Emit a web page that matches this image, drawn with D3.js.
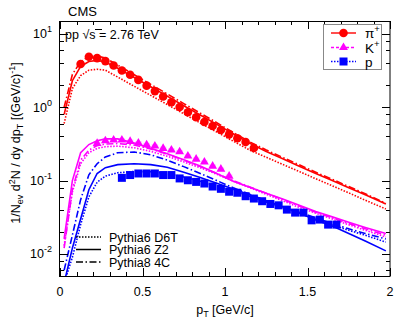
<!DOCTYPE html>
<html><head><meta charset="utf-8">
<script src="https://cdn.jsdelivr.net/npm/d3@7"></script>
<style>body{margin:0;background:#fff}svg{display:block}text{font-family:"Liberation Sans",Arial,sans-serif;fill:#000}</style>
</head><body>
<script>
// ---- data ----
const pionPt = [0.125,0.175,0.225,0.275,0.325,0.375,0.425,0.475,0.525,0.575,0.625,0.675,0.725,0.775,0.825,0.875,0.925,0.975,1.025,1.075,1.125,1.175];
const pionVal = [3.88,4.88,4.68,4.26,3.71,3.17,2.77,2.36,1.97,1.66,1.40,1.17,1.01,0.855,0.730,0.629,0.555,0.489,0.427,0.377,0.335,0.278];
const kaonPt = [0.225,0.275,0.325,0.375,0.425,0.475,0.525,0.575,0.625,0.675,0.725,0.775,0.825,0.875,0.925,0.975,1.025];
const kaonVal = [0.322,0.349,0.357,0.357,0.343,0.325,0.308,0.296,0.275,0.261,0.247,0.216,0.196,0.179,0.157,0.143,0.115];
const protonPt = [0.375,0.425,0.475,0.525,0.575,0.625,0.675,0.725,0.775,0.825,0.875,0.925,0.975,1.025,1.075,1.125,1.175,1.225,1.275,1.325,1.375,1.425,1.475,1.525,1.575,1.625,1.675];
const protonVal = [0.109,0.119,0.125,0.125,0.125,0.119,0.119,0.107,0.101,0.096,0.0912,0.083,0.0772,0.0705,0.0683,0.0612,0.0569,0.0523,0.048,0.046,0.0402,0.0366,0.0366,0.0287,0.0294,0.0251,0.0251];

const modelPt = [0.025,0.075,0.125,0.175,0.225,0.275,0.35,0.45,0.55,0.65,0.75,0.85,0.95,1.05,1.15,1.25,1.35,1.45,1.55,1.65,1.75,1.85,1.975];
const pionD6T = [0.6,1.8,2.7,3.2,3.3,3.2,2.58,1.93,1.45,1.09,0.815,0.61,0.46,0.345,0.26,0.208,0.166,0.133,0.106,0.085,0.068,0.054,0.041];
const pionZ2  = [0.8,2.3,3.6,4.2,4.35,4.15,3.4,2.55,1.9,1.42,1.05,0.785,0.585,0.435,0.322,0.25,0.198,0.157,0.125,0.100,0.080,0.064,0.048];
const pion4C  = [1.0,2.8,4.2,4.9,5.0,4.7,3.75,2.77,2.05,1.52,1.12,0.83,0.615,0.455,0.337,0.261,0.207,0.164,0.130,0.104,0.083,0.066,0.049];
const kaonD6T = [0.013,0.07,0.17,0.24,0.275,0.29,0.295,0.28,0.25,0.215,0.18,0.15,0.122,0.098,0.08,0.065,0.053,0.043,0.036,0.030,0.025,0.021,0.017];
const kaonZ2  = [0.016,0.10,0.24,0.31,0.35,0.37,0.37,0.325,0.275,0.232,0.192,0.158,0.125,0.098,0.081,0.067,0.056,0.046,0.038,0.032,0.027,0.023,0.019];
const kaon4C  = [0.012,0.075,0.19,0.26,0.30,0.315,0.32,0.305,0.27,0.23,0.19,0.155,0.125,0.10,0.082,0.067,0.055,0.045,0.037,0.031,0.026,0.022,0.018];
const protonD6T = [0.004,0.009,0.025,0.06,0.095,0.115,0.128,0.133,0.132,0.125,0.112,0.098,0.084,0.072,0.061,0.051,0.043,0.036,0.030,0.025,0.021,0.018,0.0145];
const protonZ2  = [0.004,0.012,0.03,0.075,0.125,0.15,0.165,0.17,0.165,0.152,0.13,0.11,0.092,0.077,0.064,0.053,0.044,0.036,0.029,0.024,0.019,0.015,0.011];
const proton4C  = [0.006,0.018,0.055,0.12,0.17,0.21,0.24,0.245,0.225,0.19,0.155,0.125,0.10,0.08,0.065,0.053,0.044,0.037,0.031,0.026,0.022,0.019,0.016];

const xTicks = [0,0.5,1,1.5,2];
const xTickLabels = ["0","0.5","1","1.5","2"];
const yDecades = [0.01,0.1,1,10];
const yDecadeExp = ["-2","-1","0","1"];
const particleNames = ["π","K","p"];
const generatorNames = ["Pythia6 D6T","Pythia6 Z2","Pythia8 4C"];

// ---- layout ----
const W = 407, H = 326;
const L = 60, R = 390, T = 21, B = 276;
const svg = d3.select("body").append("svg").attr("width", W).attr("height", H);
const x = d3.scaleLinear().domain([0, 2]).range([L, R]);
const y = d3.scaleLog().domain([0.005, 15]).range([B, T]);

const colors = {pi: "#ff0000", K: "#ff00ff", p: "#0000ff"};
const styles = {D6T: "1.5,1.5", Z2: null, C4: "7,2.5,1.5,2.5"};

svg.append("defs").append("clipPath").attr("id", "clip")
  .append("rect").attr("x", L).attr("y", T).attr("width", R - L).attr("height", B - T);

const plot = svg.append("g").attr("clip-path", "url(#clip)");
const line = d3.line().x(d => x(d[0])).y(d => y(d[1]));

const curves = [
  [pionD6T, colors.pi, styles.D6T], [pionZ2, colors.pi, styles.Z2], [pion4C, colors.pi, styles.C4],
  [kaonD6T, colors.K, styles.D6T], [kaonZ2, colors.K, styles.Z2], [kaon4C, colors.K, styles.C4],
  [protonD6T, colors.p, styles.D6T], [protonZ2, colors.p, styles.Z2], [proton4C, colors.p, styles.C4]
];
curves.forEach(([vals, col, dash]) => {
  plot.append("path").datum(modelPt.map((p, i) => [p, vals[i]]))
    .attr("d", line).attr("fill", "none").attr("stroke", col)
    .attr("stroke-width", 1.6).attr("stroke-dasharray", dash);
});

// systematic boxes
function boxes(pts, vals, col) {
  plot.append("g").selectAll("rect").data(pts.map((p, i) => [p, vals[i]])).join("rect")
    .attr("x", d => x(d[0] - 0.02)).attr("width", x(0.04) - x(0))
    .attr("y", d => y(d[1] * 1.06)).attr("height", d => y(d[1] / 1.06) - y(d[1] * 1.06))
    .attr("fill", col).attr("opacity", 0.2);
}
boxes(pionPt, pionVal, colors.pi);
boxes(kaonPt, kaonVal, colors.K);
boxes(protonPt, protonVal, colors.p);

// markers
plot.append("g").selectAll("circle").data(pionPt.map((p, i) => [p, pionVal[i]])).join("circle")
  .attr("cx", d => x(d[0])).attr("cy", d => y(d[1])).attr("r", 4.3).attr("fill", colors.pi);
const tri = d3.symbol().type(d3.symbolTriangle).size(34);
plot.append("g").selectAll("path").data(kaonPt.map((p, i) => [p, kaonVal[i]])).join("path")
  .attr("d", tri).attr("transform", d => `translate(${x(d[0])},${y(d[1])})`).attr("fill", colors.K);
plot.append("g").selectAll("rect").data(protonPt.map((p, i) => [p, protonVal[i]])).join("rect")
  .attr("x", d => x(d[0]) - 4).attr("y", d => y(d[1]) - 4).attr("width", 8).attr("height", 8).attr("fill", colors.p);

// ---- axes & frame ----
const ax = svg.append("g").attr("stroke", "#000").attr("stroke-width", 1);
const xMinor = d3.range(0, 2.001, 0.1);
xMinor.forEach(v => {
  const major = Math.abs(v * 2 - Math.round(v * 2)) < 1e-6;
  const len = major ? 8 : 4;
  const px = Math.round(x(v)) + 0.5;
  ax.append("line").attr("x1", px).attr("x2", px).attr("y1", B).attr("y2", B - len);
  ax.append("line").attr("x1", px).attr("x2", px).attr("y1", T).attr("y2", T + len);
});
const yMinorVals = [];
[0.001, 0.01, 0.1, 1, 10].forEach(dec => [2, 4, 6, 8].forEach(m => yMinorVals.push(dec * m)));
yMinorVals.filter(v => v >= 0.005 && v <= 15).forEach(v => {
  const py = Math.round(y(v)) + 0.5;
  ax.append("line").attr("x1", L).attr("x2", L + 4).attr("y1", py).attr("y2", py);
  ax.append("line").attr("x1", R).attr("x2", R - 4).attr("y1", py).attr("y2", py);
});
yDecades.forEach(v => {
  const py = Math.round(y(v)) + 0.5;
  ax.append("line").attr("x1", L).attr("x2", L + 8).attr("y1", py).attr("y2", py);
  ax.append("line").attr("x1", R).attr("x2", R - 8).attr("y1", py).attr("y2", py);
});
svg.append("rect").attr("x", L - 0.5).attr("y", T + 0.5).attr("width", R - L + 0.5).attr("height", B - T)
  .attr("fill", "none").attr("stroke", "#000").attr("stroke-width", 1);

// tick labels
xTicks.forEach((v, i) => {
  svg.append("text").attr("x", x(v)).attr("y", 296).attr("text-anchor", "middle")
    .attr("font-size", 12.5).text(xTickLabels[i]);
});
yDecades.forEach((v, i) => {
  const t = svg.append("text").attr("x", 52).attr("y", y(v) + 4.5).attr("text-anchor", "end").attr("font-size", 12.5);
  t.append("tspan").text("10");
  t.append("tspan").attr("dy", -6).attr("font-size", 9).text(yDecadeExp[i]);
});

// titles
const xt = svg.append("text").attr("x", 225).attr("y", 314).attr("text-anchor", "middle").attr("font-size", 12.5);
xt.append("tspan").text("p");
xt.append("tspan").attr("dy", 3).attr("font-size", 9).text("T");
xt.append("tspan").attr("dy", -3).text(" [GeV/c]");

const yt = svg.append("text").attr("transform", "translate(20,143) rotate(-90)").attr("text-anchor", "middle").attr("font-size", 12.5);
yt.append("tspan").text("1/N");
yt.append("tspan").attr("dy", 3).attr("font-size", 9).text("ev");
yt.append("tspan").attr("dy", -3).text(" d");
yt.append("tspan").attr("dy", -5).attr("font-size", 9).text("2");
yt.append("tspan").attr("dy", 5).text("N / dy dp");
yt.append("tspan").attr("dy", 3).attr("font-size", 9).text("T");
yt.append("tspan").attr("dy", -3).text(" [(GeV/c)");
yt.append("tspan").attr("dy", -5).attr("font-size", 9).text("-1");
yt.append("tspan").attr("dy", 5).text("]");

svg.append("text").attr("x", 68).attr("y", 16).attr("font-size", 13).text("CMS");
const en = svg.append("text").attr("x", 65).attr("y", 39).attr("font-size", 12.5);
en.append("tspan").text("pp √");
en.append("tspan").text("s = 2.76 TeV");
svg.append("line").attr("x1", 95).attr("x2", 102).attr("y1", 29.5).attr("y2", 29.5).attr("stroke", "#000").attr("stroke-width", 1);

// ---- particle legend ----
svg.append("rect").attr("x", 323.5).attr("y", 24.5).attr("width", 58).attr("height", 45)
  .attr("fill", "#fff").attr("stroke", "#888").attr("stroke-width", 1);
const legY = [33, 47.5, 61.5];
const legDash = [null, "3,2", "1.5,1.5"];
const legCol = [colors.pi, colors.K, colors.p];
legY.forEach((ly, i) => {
  svg.append("line").attr("x1", 331).attr("x2", 356).attr("y1", ly).attr("y2", ly)
    .attr("stroke", legCol[i]).attr("stroke-width", 1.4).attr("stroke-dasharray", legDash[i]);
});
svg.append("circle").attr("cx", 343.5).attr("cy", legY[0]).attr("r", 4.3).attr("fill", colors.pi);
svg.append("path").attr("d", tri).attr("transform", `translate(343.5,${legY[1]})`).attr("fill", colors.K);
svg.append("rect").attr("x", 339.5).attr("y", legY[2] - 4).attr("width", 8).attr("height", 8).attr("fill", colors.p);
const supers = ["+", "+", ""];
particleNames.forEach((nm, i) => {
  const t = svg.append("text").attr("x", 365).attr("y", legY[i] + 5).attr("font-size", 13.5);
  t.append("tspan").text(nm);
  if (supers[i]) t.append("tspan").attr("dy", -6).attr("font-size", 9.5).text(supers[i]);
});

// ---- generator legend ----
const gY = [237, 249.5, 262];
const gDash = [styles.D6T, styles.Z2, styles.C4];
generatorNames.forEach((nm, i) => {
  svg.append("line").attr("x1", 76).attr("x2", 101).attr("y1", gY[i]).attr("y2", gY[i])
    .attr("stroke", "#000").attr("stroke-width", 1.5).attr("stroke-dasharray", gDash[i]);
  svg.append("text").attr("x", 109).attr("y", gY[i] + 4.5).attr("font-size", 12.5).text(nm);
});
</script>
</body></html>
